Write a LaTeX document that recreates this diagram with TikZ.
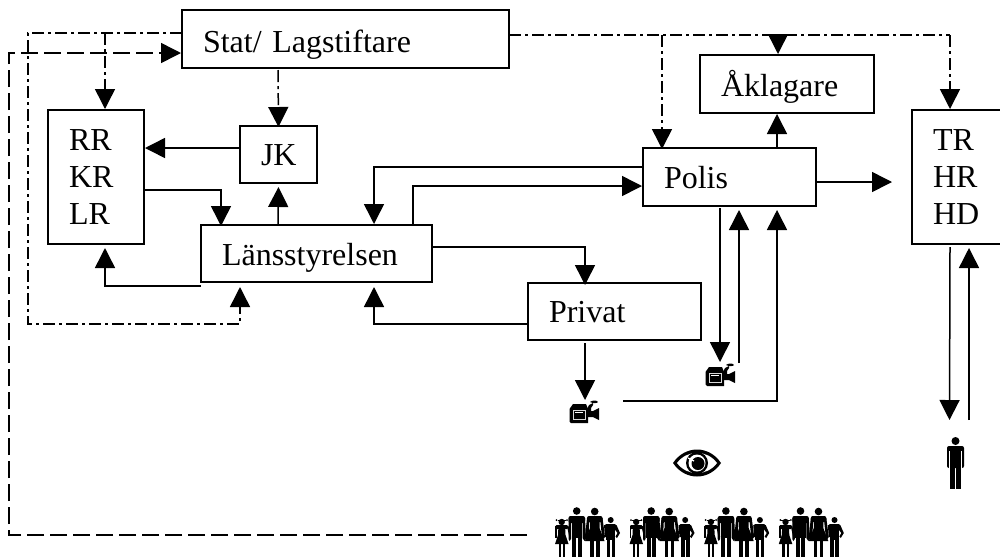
\documentclass[tikz,border=0pt]{standalone}
\usepackage{fontspec}
\setmainfont{Liberation Serif}
\usetikzlibrary{arrows.meta}
\tikzset{
  x=1pt,y=-1pt,
  box/.style={draw=black,line width=1.7pt,fill=white,anchor=north west,inner xsep=21pt,inner ysep=0pt,align=left,outer sep=0pt},
  line/.style={line width=1.5pt,draw=black},
  arr/.style={line,-{Triangle[width=20pt,length=20pt]}},
  dd/.style={arr,dash pattern=on 12pt off 4pt on 3pt off 4pt},
  dla/.style={arr,dash pattern=on 17pt off 6pt},
  icon/.style={inner sep=0pt,outer sep=0pt},
}
\newcommand{\labbox}[7][]{% name x1 y1 x2 y2 text
  \node[box,minimum width=#5pt-#3pt,minimum height=#6pt-#4pt,text width=#5pt-#3pt-42pt,#1] (#2) at (#3,#4) {#7};}
\newcommand{\pt}[3]{([shift={(#2,#3)}]#1)}
\newcommand{\bl}[2]{\raisebox{-#1pt}[0pt][0pt]{#2}}
\newcommand{\camicon}{%
  \fill (-14.5,-3) -- (-11,-8) -- (2,-8) -- (4,-3) -- (4,11) -- (-13,11) -- (-14.5,9.5) -- cycle;
  \draw[white!85!black,line width=.6pt] (-11,-1.5) rectangle (1,7);
  \fill[white] (-9.5,0) rectangle (-1,1);
  \fill (3,-1) -- (9,-1) -- (15,-4) -- (15,8) -- (9,5) -- (3,5) -- cycle;
  \fill (3,-3) -- (5,-7) -- (9,-9) -- (9,-7) -- (7,-4) -- (7,0) -- (3,0) -- cycle;
  \fill (6,-10) .. controls (8,-12) and (13,-12) .. (14,-10) .. controls (13,-8.5) and (9,-8.5) .. (6,-10) -- cycle;
}
\newcommand{\maniconA}{%
  \fill (0,-22) circle (4);
  \fill[rounded corners=2pt] (-8.5,-17) rectangle (8.5,5);
  \fill (-5.5,-5) rectangle (-0.5,26);
  \fill (0.7,-5) rectangle (5.5,26);
  \fill[white] (-6.2,-12) rectangle (-5.6,6);
  \fill[white] (5.6,-12) rectangle (6.2,6);
}
\newcommand{\familyicon}{%
  % girl
  \fill (-25.8,-10) circle (3.2);
  \fill (-31,-12) circle (1) (-20.5,-12) circle (1);
  \draw[line width=.8pt] (-30,-11.5) -- (-21.5,-11.5);
  \fill[rounded corners=1pt] (-32,-7) rectangle (-19.5,-3);
  \fill (-29,-7) -- (-22.5,-7) -- (-22,3) -- (-19,12) -- (-32.5,12) -- (-29.5,3) -- cycle;
  \fill (-32.5,-6) rectangle (-30.8,6);
  \fill (-20.5,-6) -- (-19,-6) -- (-16.5,5) -- (-18,6) -- cycle;
  \fill (-29,12) rectangle (-26.8,25);
  \fill (-24.8,12) rectangle (-22.6,25);
  % man
  \fill (-10.8,-21) circle (3.8);
  \fill[rounded corners=2pt] (-19,-16) rectangle (-2.5,-9);
  \fill (-16,-16) rectangle (-5.5,6);
  \fill (-19,-14) -- (-16.5,-14) -- (-16.5,7) -- (-18,9) -- (-19,7) -- cycle;
  \fill (-5,-14) -- (-2.5,-14) -- (-1.5,7) -- (-3,9) -- (-5,6) -- cycle;
  \fill (-15.5,5) rectangle (-11.5,25);
  \fill (-10,5) rectangle (-6,25);
  % woman
  \fill (7.2,-20.5) circle (3.8);
  \fill[rounded corners=2pt] (-0.5,-16) rectangle (15,-10);
  \fill (2.5,-16) -- (12,-16) -- (12,-4) -- (17,9) -- (-2.5,9) -- (2.5,-4) -- cycle;
  \fill (-0.5,-14) -- (2,-14) -- (1,5) -- (-1,7) -- (-2.5,5) -- cycle;
  \fill (12.5,-14) -- (15,-14) -- (17.5,5) -- (16,7) -- (14.5,5) -- cycle;
  \fill (2.5,9) rectangle (6,25);
  \fill (8.5,9) rectangle (12,25);
  % boy
  \fill (23.2,-12) circle (3);
  \fill[rounded corners=1pt] (17.5,-8) rectangle (28.5,-3);
  \fill (18.5,-8) rectangle (27.5,8);
  \fill (16.5,-7) -- (19,-7) -- (19,5) -- (17.5,5) -- cycle;
  \fill (27,-7) -- (29,-7) -- (32.5,1) -- (29.5,6) -- (28,4.5) -- (30,1) -- (27,-3) -- cycle;
  \fill (19,8) rectangle (22.5,25);
  \fill (24,8) rectangle (27.5,25);
}
\begin{document}
\begin{tikzpicture}
\useasboundingbox (0,0) rectangle (1000,558);
\fill[white] (0,0) rectangle (1000,558);
\fontsize{32}{36.7}\selectfont
% boxes
\labbox{stat}{182}{10}{509}{68}{\bl{13}{Stat/ Lagstiftare}}
\labbox{rr}{48}{110}{144}{244}{RR\\KR\\LR}
\labbox{jk}{240}{126}{317}{183}{\bl{11}{JK}}
\labbox{lan}{201}{225}{432}{282}{\bl{11.5}{Länsstyrelsen}}
\labbox{polis}{643}{148}{816}{206}{\bl{11}{Polis}}
\labbox{akl}{700}{55}{874}{113}{\bl{12}{Åklagare}}
\labbox{tr}{912}{110}{1006}{244}{TR\\HR\\HD}
\labbox{priv}{528}{283}{701}{340}{\bl{11}{Privat}}
% icons
\node[icon,minimum width=30pt,minimum height=22pt] (cam1) at (720,375) {};
\node[icon,minimum width=30pt,minimum height=22pt] (cam2) at (584,412) {};
\node[icon,minimum width=48pt,minimum height=28pt] (eye) at (697,463) {};
\node[icon,minimum width=17pt,minimum height=52pt] (person) at (955.5,463) {};
\node[icon,minimum width=65pt,minimum height=50pt] (fam1) at (587.5,532) {};
\node[icon,minimum width=65pt,minimum height=50pt] (fam2) at (662,532) {};
\node[icon,minimum width=65pt,minimum height=50pt] (fam3) at (736.7,532) {};
\node[icon,minimum width=65pt,minimum height=50pt] (fam4) at (811.3,532) {};
\begin{scope}[shift={(cam1.center)}]\camicon\end{scope}
\begin{scope}[shift={(cam2.center)}]\camicon\end{scope}
\begin{scope}[shift={(person.center)}]\maniconA\end{scope}
\begin{scope}[shift={(fam1.center)}]\familyicon\end{scope}
\begin{scope}[shift={(fam2.center)}]\familyicon\end{scope}
\begin{scope}[shift={(fam3.center)}]\familyicon\end{scope}
\begin{scope}[shift={(fam4.center)}]\familyicon\end{scope}
\begin{scope}[shift={(eye.center)}]
  \fill (-24,0) .. controls (-12,-18) and (12,-18) .. (24,0) .. controls (12,18) and (-12,18) .. (-24,0) -- cycle;
  \fill[white] (-20,0) .. controls (-10,-13.5) and (10,-13.5) .. (20,0) .. controls (10,13.5) and (-10,13.5) .. (-20,0) -- cycle;
  \fill (0,0) circle (11);
  \fill[white] (0,0) circle (8.5);
  \fill (1,0.5) circle (6.5);
  \draw[white,line width=1.3pt] (-9,-5) -- (-3,-2);
\end{scope}
% dash-dot control lines from the state
\draw[dd] \pt{stat.north west}{0}{23} -- (28,33) -- (28,324) -- (240,324) -- \pt{lan.south west}{39}{5};
\draw[dd] (105,33) -- \pt{rr.north west}{57}{-1};
\draw[dd] \pt{stat.south west}{96}{2} -- \pt{jk.north}{0}{1};
\draw[line,dash pattern=on 12pt off 4pt on 3pt off 4pt] \pt{stat.north east}{0}{25} -- (950,35);
\draw[dd] (662,35) -- \pt{polis.north west}{19}{1};
\draw[dd] (950,35) -- \pt{tr.north west}{38}{-1};
\draw[arr] (778,34.5) -- \pt{akl.north west}{78}{-1};
% public to state
\draw[dla] \pt{fam1.west}{-28}{3} -- (9,535) -- (9,53) -- \pt{stat.north west}{-1}{43};
% solid
\draw[arr] \pt{jk.north west}{0}{22} -- \pt{rr.north east}{1}{38};
\draw[arr] \pt{rr.north east}{0}{80} -- (221,190) -- \pt{lan.north west}{20}{1};
\draw[arr] \pt{lan.north west}{77}{0} -- \pt{jk.south}{0}{4};
\draw[arr] \pt{lan.south west}{0}{4} -- (105,286) -- \pt{rr.south west}{57}{4};
\draw[arr] \pt{polis.north west}{0}{19} -- (374,167) -- \pt{lan.north west}{173}{-1};
\draw[arr] \pt{lan.north west}{212}{0} -- (413,186) -- \pt{polis.north west}{-1}{38};
\draw[arr] \pt{lan.north east}{0}{22} -- (585,247) -- \pt{priv.north west}{57}{2};
\draw[arr] \pt{priv.north west}{0}{41} -- (374,324) -- \pt{lan.south west}{173}{5};
\draw[arr] \pt{polis.north west}{134}{0} -- \pt{akl.south west}{77}{1};
\draw[arr] \pt{polis.north east}{0}{34} -- (892,182);
\draw[arr] \pt{polis.south west}{77}{2} -- \pt{cam1.north}{0}{-2};
\draw[arr] \pt{cam1.north}{19}{-1} -- \pt{polis.south west}{96}{4};
\draw[arr] \pt{cam2.east}{24}{-11} -- (777,401) -- \pt{polis.south west}{134}{4};
\draw[arr] \pt{priv.south west}{57}{3} -- \pt{cam2.north}{1}{-1};
\draw[arr] \pt{tr.south west}{38}{3} -- \pt{person.north}{-6}{-17};
\draw[arr] \pt{person.north}{13.5}{-17} -- \pt{tr.south west}{57}{4};
\end{tikzpicture}
\end{document}
